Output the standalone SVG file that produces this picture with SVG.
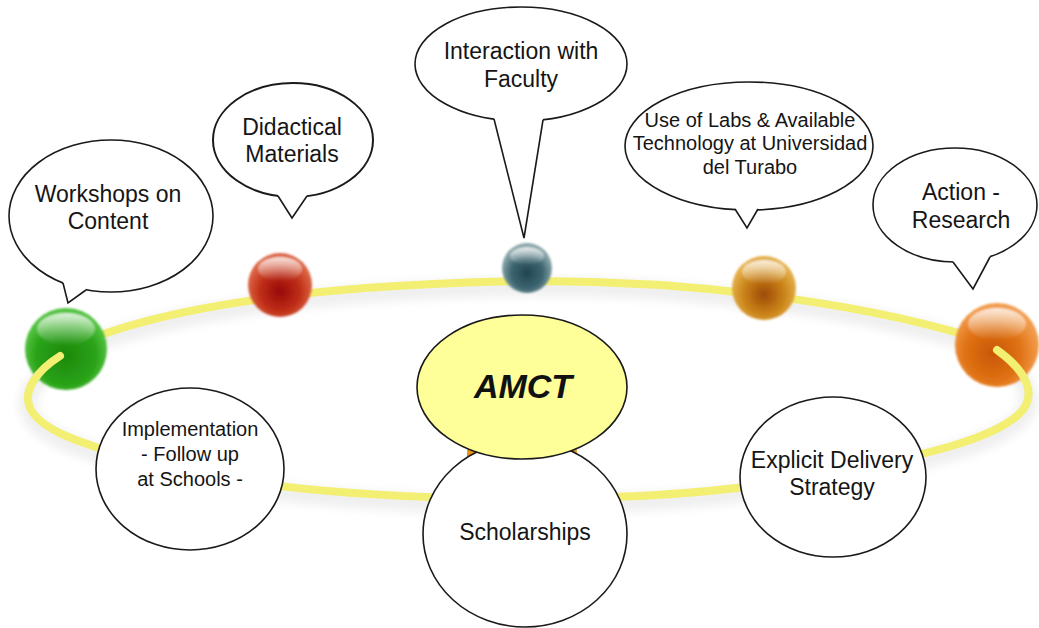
<svg xmlns="http://www.w3.org/2000/svg" width="1039" height="628" viewBox="0 0 1039 628">
<style>
.bub{fill:#fff;stroke:#1a1a1a;stroke-width:1.6}
.tf{fill:#fff;stroke:none}
.tail{fill:none;stroke:#1a1a1a;stroke-width:1.6;stroke-linejoin:miter}
.t{font-family:"Liberation Sans",Arial,sans-serif;font-size:23px;fill:#151515;text-anchor:middle}
.s{font-size:20px}
.ring{fill:none;stroke:#f3ef72;stroke-width:8;stroke-linecap:round}
.glow{fill:none;stroke:#efefef;stroke-width:18;stroke-linecap:round}
.hl{fill:url(#hl)}
</style>
<defs>
<filter id="blur" x="-20%" y="-20%" width="140%" height="140%"><feGaussianBlur stdDeviation="5"/></filter>
<filter id="soft" x="-20%" y="-20%" width="140%" height="140%"><feGaussianBlur stdDeviation="0.9"/></filter>
<linearGradient id="hl" x1="0" y1="0" x2="0" y2="1">
<stop offset="0" stop-color="#fff" stop-opacity="0.8"/>
<stop offset="1" stop-color="#fff" stop-opacity="0"/>
</linearGradient>
<radialGradient id="gGreen" cx="50%" cy="58%" r="52%">
<stop offset="0" stop-color="#1c880b"/><stop offset="0.7" stop-color="#2aa318"/><stop offset="1" stop-color="#52c240"/>
</radialGradient>
<radialGradient id="gRed" cx="50%" cy="60%" r="52%">
<stop offset="0" stop-color="#980806"/><stop offset="0.6" stop-color="#bf2f18"/><stop offset="1" stop-color="#dc6646"/>
</radialGradient>
<radialGradient id="gTeal" cx="50%" cy="60%" r="52%">
<stop offset="0" stop-color="#21464e"/><stop offset="0.6" stop-color="#3c6570"/><stop offset="1" stop-color="#8aa6aa"/>
</radialGradient>
<radialGradient id="gGold" cx="50%" cy="60%" r="52%">
<stop offset="0" stop-color="#9e4a06"/><stop offset="0.6" stop-color="#c98218"/><stop offset="1" stop-color="#e4ae48"/>
</radialGradient>
<radialGradient id="gOrange" cx="45%" cy="60%" r="55%">
<stop offset="0" stop-color="#c85604"/><stop offset="0.6" stop-color="#e07214"/><stop offset="1" stop-color="#f29c4c"/>
</radialGradient>
</defs>
<rect width="1039" height="628" fill="#fff"/>

<g id="connectors">
<path class="glow" filter="url(#blur)" transform="translate(0,6)" d="M66,349 C150,310 300,285 527,281 C700,280 880,305 997,345"/>
<path class="glow" filter="url(#blur)" transform="translate(0,6)" d="M60,356 C38,370 22,390 30,408 C40,430 80,442 120,455 C200,478 300,494 460,498 C580,500 720,498 830,472 C920,457 990,440 1018,415 C1040,395 1025,370 997,350"/>
<path id="ring-top" class="ring" d="M66,349 C150,310 300,285 527,281 C700,280 880,305 997,345"/>
</g>

<g id="ball-green" filter="url(#soft)">
<circle cx="66" cy="349" r="41" fill="url(#gGreen)"/>
<ellipse cx="66" cy="329" rx="29" ry="16" class="hl"/>
</g>
<g id="ball-red" filter="url(#soft)">
<circle cx="280" cy="285" r="32" fill="url(#gRed)"/>
<ellipse cx="280" cy="269" rx="22" ry="12" class="hl"/>
</g>
<g id="ball-teal" filter="url(#soft)">
<circle cx="527" cy="268" r="25" fill="url(#gTeal)"/>
<ellipse cx="527" cy="256" rx="17" ry="9" class="hl"/>
</g>
<g id="ball-gold" filter="url(#soft)">
<circle cx="764" cy="288" r="32" fill="url(#gGold)"/>
<ellipse cx="764" cy="272" rx="22" ry="12" class="hl"/>
</g>
<g id="ball-orange" filter="url(#soft)">
<circle cx="997" cy="345" r="42" fill="url(#gOrange)"/>
<ellipse cx="997" cy="324" rx="29" ry="16" class="hl"/>
</g>
<g id="ball-hidden">
<circle cx="522" cy="455" r="55" fill="#e8901c"/>
</g>

<g id="connectors-front">
<path id="ring-bottom" class="ring" d="M60,356 C38,370 22,390 30,408 C40,430 80,442 120,455 C200,478 300,494 460,498 C580,500 720,498 830,472 C920,457 990,440 1018,415 C1040,395 1025,370 997,350"/>
</g>

<g id="workshops">
<ellipse class="bub" cx="111" cy="216" rx="102" ry="76"/>
<polygon class="tf" points="63,283 65,276 84,282 86,290 68,303"/>
<polyline class="tail" points="63,283 68,303 86,290"/>
<text class="t" x="108" y="202">Workshops on</text>
<text class="t" x="108" y="229">Content</text>
</g>

<g id="didactical">
<ellipse class="bub" cx="293" cy="140" rx="80" ry="57" style="stroke-width:2"/>
<polygon class="tf" points="278,196 279,190 306,190 307,196 292,218"/>
<polyline class="tail" points="278,196 292,218 307,196"/>
<text class="t" x="292" y="135">Didactical</text>
<text class="t" x="292" y="162">Materials</text>
</g>

<g id="interaction">
<ellipse class="bub" cx="521" cy="64" rx="106" ry="57"/>
<polygon class="tf" points="494,119 496,112 541,112 543,120 524,238"/>
<polyline class="tail" points="494,119 524,238 543,120"/>
<text class="t" x="521" y="59">Interaction with</text>
<text class="t" x="521" y="87">Faculty</text>
</g>

<g id="labs">
<ellipse class="bub" cx="749" cy="146" rx="124" ry="64"/>
<polygon class="tf" points="735,209 736,203 757,203 758,209 747,228"/>
<polyline class="tail" points="735,209 747,228 758,209"/>
<text class="t s" x="750" y="127">Use of Labs &amp; Available</text>
<text class="t s" x="750" y="150">Technology at Universidad</text>
<text class="t s" x="750" y="174">del Turabo</text>
</g>

<g id="action">
<ellipse class="bub" cx="955" cy="205" rx="82" ry="57"/>
<polygon class="tf" points="953,262 954,255 988,250 990,257 973,289"/>
<polyline class="tail" points="953,262 973,289 990,257"/>
<text class="t" x="961" y="200">Action -</text>
<text class="t" x="961" y="228">Research</text>
</g>

<g id="implementation">
<ellipse class="bub" cx="190" cy="469" rx="94" ry="81"/>
<text class="t s" x="190" y="436">Implementation</text>
<text class="t s" x="190" y="461">- Follow up</text>
<text class="t s" x="190" y="486">at Schools -</text>
</g>

<g id="explicit">
<ellipse class="bub" cx="833" cy="477" rx="93" ry="80"/>
<text class="t" x="832" y="468">Explicit Delivery</text>
<text class="t" x="832" y="495">Strategy</text>
</g>

<g id="scholarships">
<ellipse class="bub" cx="525" cy="534" rx="102" ry="93"/>
<text class="t" x="525" y="540">Scholarships</text>
</g>

<g id="amct">
<ellipse cx="522" cy="387" rx="105" ry="72" fill="#ffff99" stroke="#1a1a1a" stroke-width="1.6"/>
<text x="523" y="398" style="font-family:'Liberation Sans',Arial,sans-serif;font-size:34px;font-weight:bold;font-style:italic;fill:#111;text-anchor:middle">AMCT</text>
</g>
</svg>
